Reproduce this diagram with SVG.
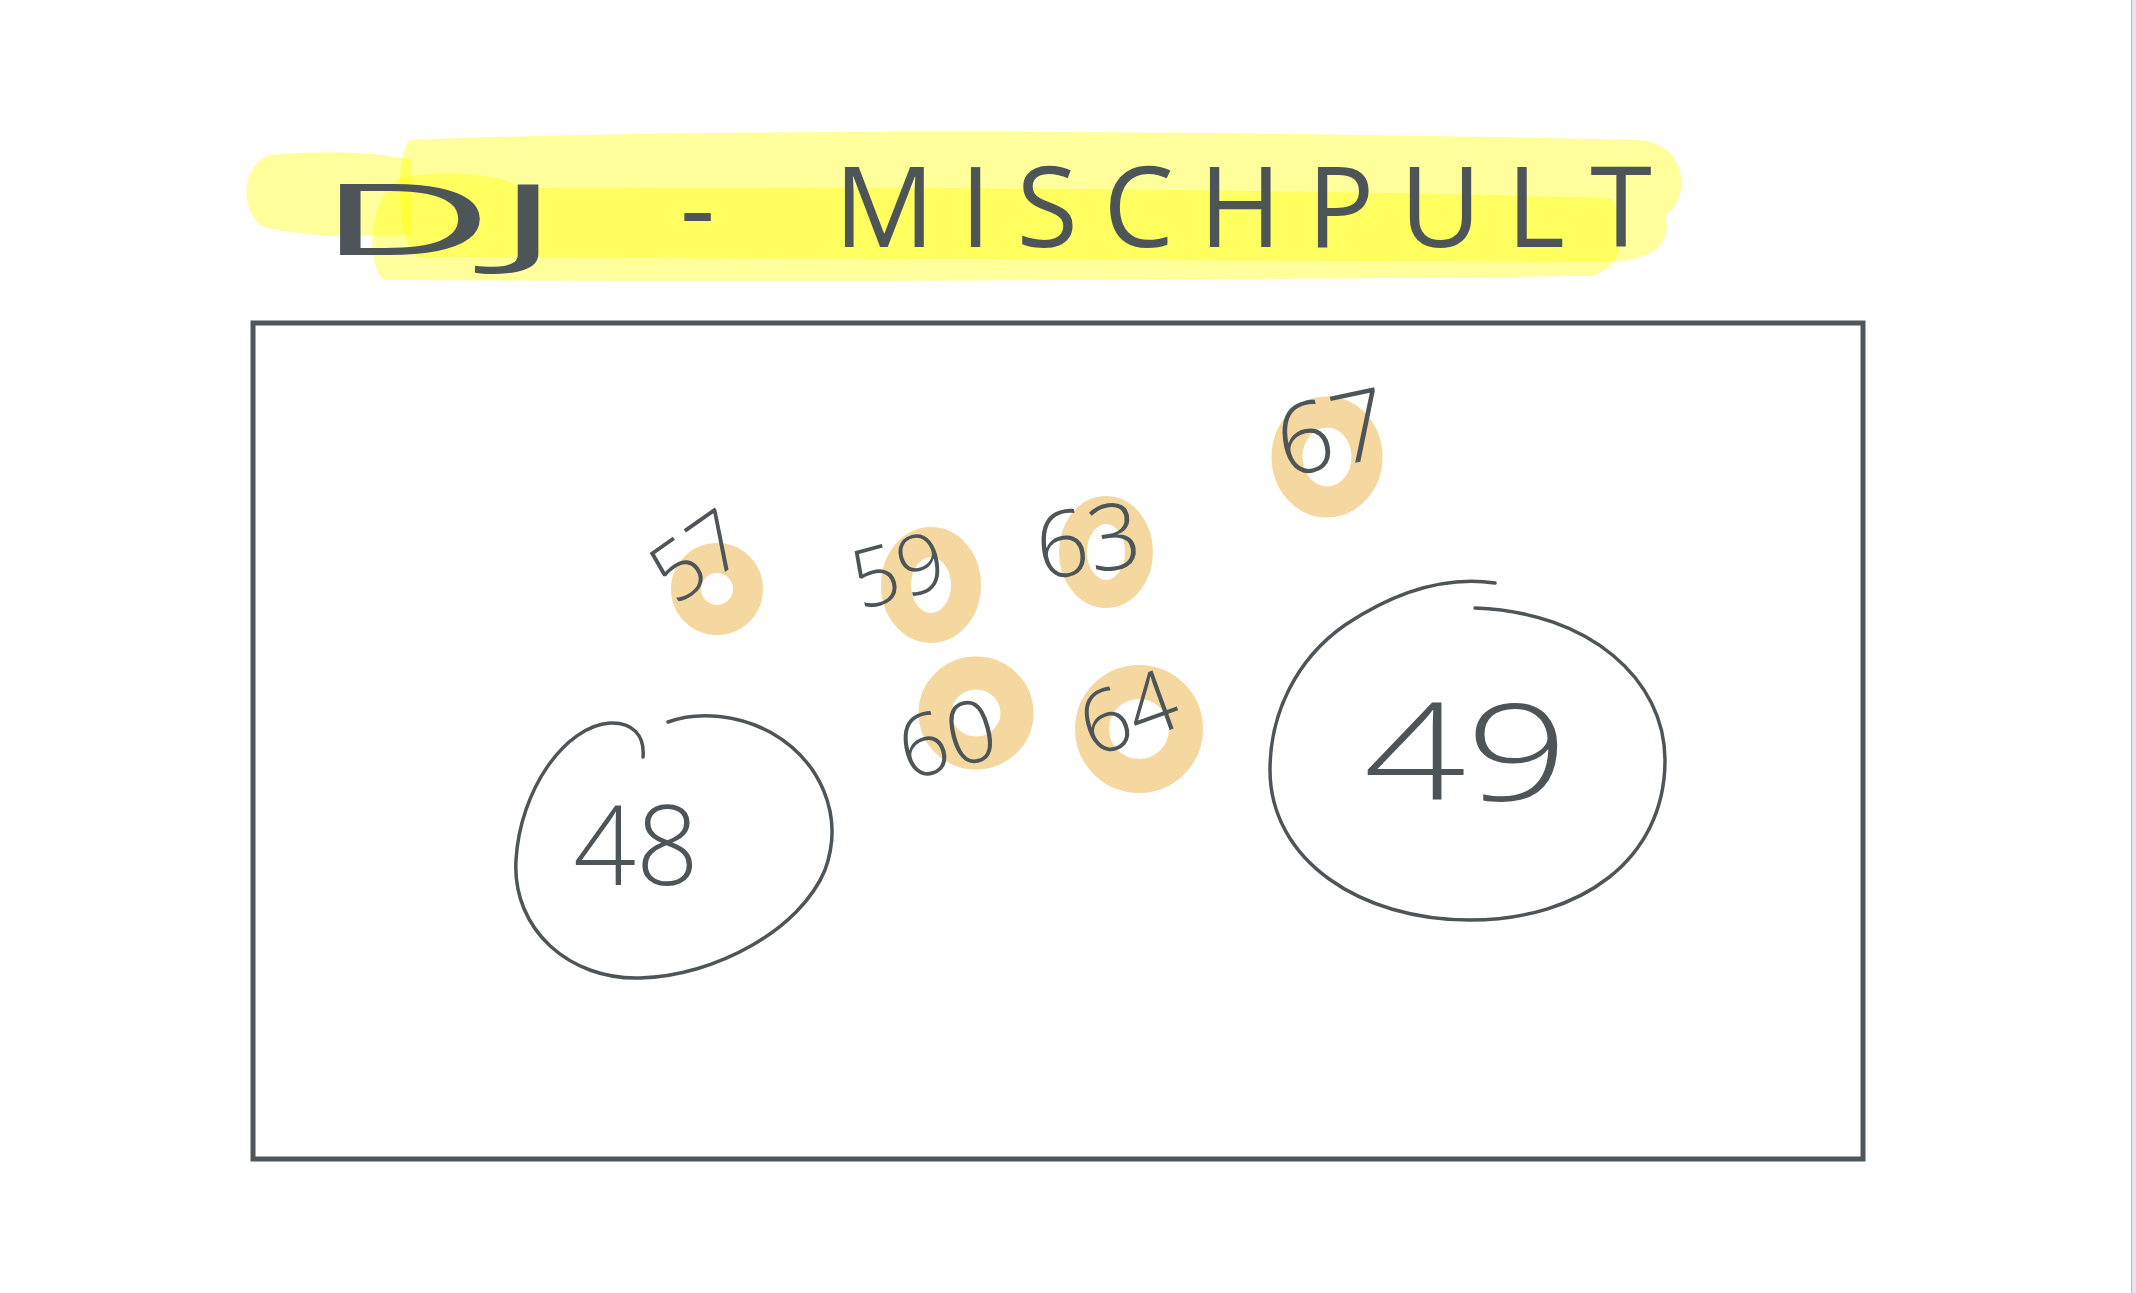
<svg xmlns="http://www.w3.org/2000/svg" width="2136" height="1293" viewBox="0 0 2136 1293">
<style>
.ink{fill:none;stroke:#4d5558;stroke-linecap:round;stroke-linejoin:round}
.knob{fill:none;stroke:#f5d89f}
.num{font-family:"Open Sans","Liberation Sans",sans-serif;font-weight:300;fill:#4d5558;text-anchor:middle}
.hl{fill:#ffff00;fill-opacity:0.39}
.title{font-family:"Open Sans","Liberation Sans",sans-serif;font-weight:400;fill:#4d5558}
</style>
<rect width="2136" height="1293" fill="#ffffff"/>
<rect x="2132" y="0" width="4" height="1293" fill="#e3e5f1"/>
<line x1="2131.5" y1="0" x2="2131.5" y2="1293" stroke="#b9bac2" stroke-width="1"/>

<g id="title">
  <path class="hl" d="M 410 140 C 700 128, 1200 130, 1640 140 C 1690 145, 1690 200, 1665 215 C 1672 240, 1660 262, 1600 262 L 420 257 C 395 250, 395 150, 410 140 Z"/>
  <path class="hl" d="M 270 155 C 320 150, 380 152, 412 160 L 412 235 C 360 236, 300 238, 262 226 C 240 210, 240 165, 270 155 Z"/>
  <path class="hl" d="M 400 178 C 440 170, 500 172, 520 188 C 900 186, 1300 190, 1610 198 C 1630 220, 1628 268, 1590 276 C 1200 280, 800 282, 385 280 C 366 270, 366 200, 400 178 Z"/>
  <text class="title" y="255"><tspan x="316" font-size="98" textLength="245" lengthAdjust="spacingAndGlyphs">DJ</tspan><tspan x="680" y="247" font-size="109">-</tspan><tspan x="834" y="247" font-size="112" textLength="818" lengthAdjust="spacing">MISCHPULT</tspan></text>
</g>

<g id="mixer">
  <rect x="253" y="323" width="1610" height="836" fill="none" stroke="#4f575a" stroke-width="5"/>
</g>

<g id="knob-57">
  <ellipse class="knob" cx="717" cy="589" rx="31" ry="31" stroke-width="30"/>
  <text class="num" font-size="82" transform="translate(697 556) rotate(-35)" y="29">57</text>
</g>
<g id="knob-59">
  <ellipse class="knob" cx="931" cy="585" rx="35" ry="43" stroke-width="30"/>
  <text class="num" font-size="82" transform="translate(898 570) rotate(-15)" y="29">59</text>
</g>
<g id="knob-63">
  <ellipse class="knob" cx="1106" cy="552" rx="33" ry="42" stroke-width="28"/>
  <text class="num" font-size="92" transform="translate(1088 540) rotate(-8)" y="33">63</text>
</g>
<g id="knob-67">
  <ellipse class="knob" cx="1327" cy="457" rx="40" ry="45" stroke-width="31"/>
  <text class="num" font-size="98" transform="translate(1332 432) rotate(-12)" y="35">67</text>
</g>
<g id="knob-60">
  <ellipse class="knob" cx="976" cy="713" rx="41" ry="40" stroke-width="33"/>
  <text class="num" font-size="86" transform="translate(947 738) rotate(-15)" y="31">60</text>
</g>
<g id="knob-64">
  <ellipse class="knob" cx="1139" cy="729" rx="47" ry="47" stroke-width="34"/>
  <text class="num" font-size="86" transform="translate(1128 712) rotate(-20)" y="31">64</text>
</g>

<g id="deck-48">
  <path class="ink" stroke-width="3.5" d="M 643 757 C 645 735, 632 722, 610 723 C 565 726, 520 790, 516 860 C 512 930, 570 980, 640 978 C 715 976, 800 930, 825 870 C 845 815, 820 760, 770 732 C 740 716, 700 710, 668 722"/>
  <text class="num" font-size="110" x="636" y="885">48</text>
</g>
<g id="deck-49">
  <path class="ink" stroke-width="3.5" d="M 1495 583 C 1440 575, 1390 595, 1345 625 C 1295 660, 1270 715, 1270 770 C 1270 860, 1360 920, 1470 920 C 1580 920, 1665 860, 1665 760 C 1665 680, 1590 612, 1475 608"/>
  <text class="num" font-size="135" x="1466" y="800" textLength="205" lengthAdjust="spacingAndGlyphs">49</text>
</g>

<g id="connectors"/>
</svg>
